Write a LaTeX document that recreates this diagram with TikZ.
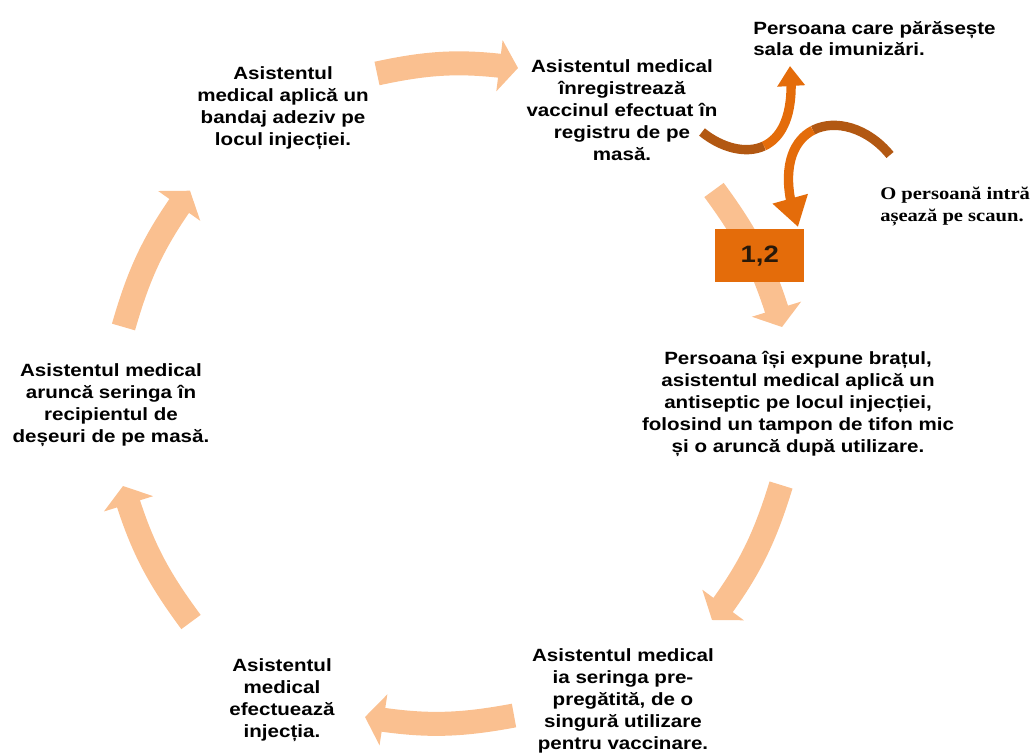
\documentclass[tikz,border=0pt]{standalone}
\usepackage{fontspec}
\setmainfont{Liberation Sans}[FakeStretch = 1.16]
\newfontfamily\serifbf{Liberation Serif}[FakeStretch = 1.16]
\usetikzlibrary{arrows.meta, bending}

\definecolor{ringorange}{RGB}{250,192,144}
\definecolor{swirlorange}{RGB}{228,108,10}
\definecolor{swirlbrown}{RGB}{178,88,18}
\definecolor{numtext}{RGB}{40,25,10}

\tikzset{
    steptext/.style = {align = center, inner sep = 0pt, font = \fontsize{13.3}{16.4}\selectfont\bfseries},
    ringarrow/.style = {ringorange, line width = 18pt, -{Triangle[width = 38pt, length = 14pt]}, bend left = 10},
    swirl/.style = {line width = 7pt},
    numbox/.style = {fill = swirlorange, minimum width = 67pt, minimum height = 39.75pt, inner sep = 0pt, text = numtext, font = \fontsize{17.8}{20}\selectfont\bfseries}
}

\begin{document}
\begin{tikzpicture}[x = 0.75pt, y = 0.75pt]
    \useasboundingbox (0,0) rectangle (1034,-753);

    \coordinate (r1a) at (377,-73.5);
    \coordinate (r1b) at (518,-68);
    \coordinate (r2a) at (714,-190);
    \coordinate (r2b) at (782,-327);
    \coordinate (r3a) at (781,-485);
    \coordinate (r3b) at (712,-620);
    \coordinate (r4a) at (514,-715.5);
    \coordinate (r4b) at (365,-717);
    \coordinate (r5a) at (191,-622);
    \coordinate (r5b) at (123,-486);
    \coordinate (r6a) at (123.5,-327);
    \coordinate (r6b) at (190,-190.7);

    \draw[ringarrow] (r1a) to (r1b);
    \draw[ringarrow] (r2a) to (r2b);
    \draw[ringarrow] (r3a) to (r3b);
    \draw[ringarrow] (r4a) to (r4b);
    \draw[ringarrow] (r5a) to (r5b);
    \draw[ringarrow] (r6a) to (r6b);

    \node[numbox] (num) at (759.7,-255.8) {1,2};

    \coordinate (s1a) at (702,-132);
    \coordinate (s1m) at (764,-146);
    \coordinate (s1b) at (790,-66);
    \draw[swirl, swirlbrown] (s1a) .. controls (721,-147.5) and (745.5,-154.5) .. (s1m);
    \draw[swirl, swirlorange, -{Triangle[width = 20pt, length = 15pt]}] (s1m) .. controls (782.5,-137.25) and (795,-113) .. (s1b);

    \coordinate (s2a) at (890,-155);
    \coordinate (s2m) at (812.9,-130.25);
    \coordinate (s2b) at (798,-227);
    \draw[swirl, swirlbrown] (s2a) .. controls (867.5,-127.5) and (835,-118.75) .. (s2m);
    \draw[swirl, swirlorange, -{Triangle[width = 26pt, length = 22pt]}] (s2m) .. controls (790.75,-141.75) and (779,-173.5) .. (s2b);

    \node[steptext] (aplica) at (283,-108) {Asistentul\\medical aplică un\\bandaj adeziv pe\\locul injecției.};
    \node[steptext] (inreg) at (622,-110) {Asistentul medical\\înregistrează\\vaccinul efectuat în\\registru de pe\\masă.};
    \node[steptext] (expune) at (798,-404) {Persoana își expune brațul,\\asistentul medical aplică un\\antiseptic pe locul injecției,\\folosind un tampon de tifon mic\\și o aruncă după utilizare.};
    \node[steptext] (seringa) at (623,-701) {Asistentul medical\\ia seringa pre-\\pregătită, de o\\singură utilizare\\pentru vaccinare.};
    \node[steptext] (injectie) at (282,-700) {Asistentul\\medical\\efectuează\\injecția.};
    \node[steptext] (arunca) at (111,-405) {Asistentul medical\\aruncă seringa în\\recipientul de\\deșeuri de pe masă.};
    \node[steptext, align = left, anchor = west] (pleaca) at (753,-38.5) {Persoana care părăsește\\sala de imunizări.};
    \node[steptext, align = left, anchor = west, font = \serifbf\fontsize{13.3}{17.2}\selectfont\bfseries] (intra) at (880,-206.5) {O persoană intră\\așează pe scaun.};
\end{tikzpicture}
\end{document}
